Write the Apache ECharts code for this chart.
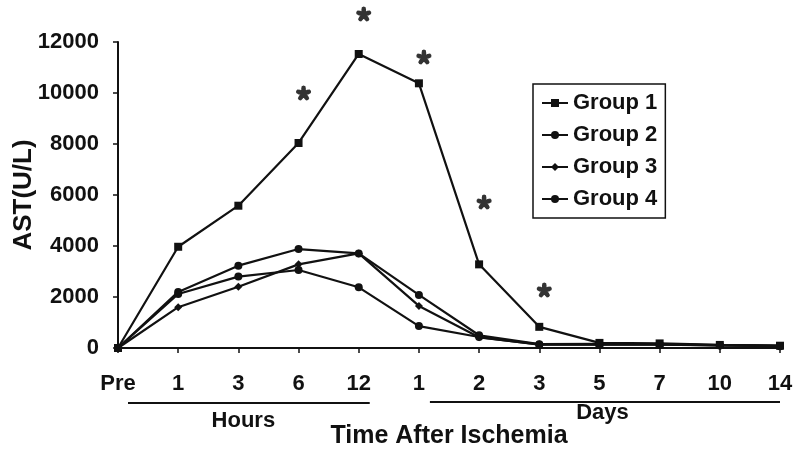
<!DOCTYPE html>
<html>
<head>
<meta charset="utf-8">
<script src="https://cdn.jsdelivr.net/npm/echarts@6/dist/echarts.min.js"></script>
<style>html,body{margin:0;padding:0;background:#fff}#c{width:800px;height:454px}</style>
</head>
<body>
<div id="c"></div>
<script>
// categories (unique keys) and the tick labels shown for them
var categories = ['Pre', '1 h', '3 h', '6 h', '12 h', '1 d', '2 d', '3 d', '5 d', '7 d', '10 d', '14 d'];
var tickLabels = ['Pre', '1', '3', '6', '12', '1', '2', '3', '5', '7', '10', '14'];
var yTicks = [0, 2000, 4000, 6000, 8000, 10000, 12000];

var group1 = [0, 3970, 5580, 8040, 11530, 10380, 3280, 830, 200, 180, 120, 90];
var group2 = [0, 2200, 3230, 3880, 3710, 2080, 500, 150, 160, 150, 110, 80];
var group3 = [0, 1600, 2400, 3280, 3710, 1650, 420, 140, 150, 140, 100, 80];
var group4 = [0, 2120, 2800, 3060, 2380, 860, 430, 130, 140, 130, 100, 70];
// significance asterisks (height at which each * is drawn)
var signif = [null, null, null, 10000, 13100, 11410, 5725, 2275, null, null, null, null];

var FONT = '"Liberation Sans", Arial, sans-serif';
var chart = echarts.init(document.getElementById('c'), null, {renderer: 'canvas'});

// five-armed bold asterisk glyph as a symbol path
function asteriskPath() {
  var d = '';
  var pts = [[0, -0.2], [0.55, -0.3], [0.9, -0.24], [1, 0], [0.9, 0.24], [0.55, 0.3], [0, 0.2]];
  for (var k = 0; k < 5; k++) {
    var a = -Math.PI / 2 + k * 2 * Math.PI / 5;
    var ux = Math.cos(a), uy = Math.sin(a), vx = -uy, vy = ux;
    pts.forEach(function (p, i) {
      var x = 10 + 10 * (ux * p[0] + vx * p[1]);
      var y = 10 + 10 * (uy * p[0] + vy * p[1]);
      d += (i === 0 ? 'M' : 'L') + x.toFixed(2) + ' ' + y.toFixed(2) + ' ';
    });
    d += 'Z ';
  }
  return 'path://' + d;
}

function lineSeries(name, data, symbol) {
  return {
    name: name, type: 'line', data: data, symbol: symbol, symbolSize: 8,
    lineStyle: {color: '#111', width: 2.2},
    itemStyle: {color: '#111'},
    animation: false
  };
}

var option = {
  backgroundColor: '#fff',
  animation: false,
  grid: {left: 118, right: 20, top: 42, bottom: 106, containLabel: false, outerBoundsMode: 'none'},
  legend: {
    data: ['Group 1', 'Group 2', 'Group 3', 'Group 4'],
    orient: 'vertical', left: 533, top: 84,
    borderColor: '#111', borderWidth: 1.5, padding: [8, 8, 8, 8],
    itemGap: 10, itemWidth: 26, itemHeight: 10,
    textStyle: {fontFamily: FONT, fontSize: 22, fontWeight: 'bold', color: '#111'}
  },
  xAxis: {
    type: 'category', data: categories, boundaryGap: false,
    name: 'Time After Ischemia', nameLocation: 'middle', nameGap: 76, nameMoveOverlap: false,
    nameTextStyle: {fontFamily: FONT, fontSize: 25, fontWeight: 'bold', color: '#111'},
    axisLine: {show: true, lineStyle: {color: '#111', width: 2}},
    axisTick: {show: true, alignWithLabel: true, length: 5, lineStyle: {color: '#111', width: 1.5}},
    axisLabel: {
      margin: 25, fontFamily: FONT, fontSize: 22, fontWeight: 'bold', color: '#111',
      formatter: function (v, i) { return tickLabels[i]; }
    },
    splitLine: {show: false}
  },
  yAxis: {
    type: 'value', min: yTicks[0], max: yTicks[yTicks.length - 1], interval: 2000,
    name: 'AST(U/L)', nameLocation: 'middle', nameGap: 81, nameMoveOverlap: false,
    nameTextStyle: {fontFamily: FONT, fontSize: 26, fontWeight: 'bold', color: '#111'},
    axisLine: {show: true, lineStyle: {color: '#111', width: 2}},
    axisTick: {show: true, length: 5, lineStyle: {color: '#111', width: 1.5}},
    axisLabel: {margin: 19, fontFamily: FONT, fontSize: 22, fontWeight: 'bold', color: '#111',
      formatter: function (v) { return String(v); }},
    splitLine: {show: false}
  },
  series: [
    lineSeries('Group 1', group1, 'rect'),
    lineSeries('Group 2', group2, 'circle'),
    lineSeries('Group 3', group3, 'diamond'),
    lineSeries('Group 4', group4, 'circle'),
    {
      name: 'sig', type: 'scatter', data: signif, clip: false,
      symbol: asteriskPath(), symbolSize: 15, symbolOffset: [5, 0],
      itemStyle: {color: '#000'},
      silent: true, z: 5
    }
  ]
};
chart.setOption(option);

// decorations: "Hours" / "Days" underlines and labels, placed from axis positions
function px(cat) { return chart.convertToPixel({xAxisIndex: 0}, cat); }
var axisY = chart.convertToPixel({yAxisIndex: 0}, 0);
var lineY = axisY + 55;
chart.setOption({
  graphic: [
    {type: 'line', shape: {x1: px('Pre') + 10, y1: lineY, x2: px('12 h') + 11, y2: lineY},
      style: {stroke: '#111', lineWidth: 2}},
    {type: 'line', shape: {x1: px('1 d') + 11, y1: lineY - 1, x2: px('14 d'), y2: lineY - 1},
      style: {stroke: '#111', lineWidth: 2}},
    {type: 'text', x: px('3 h') + 5, y: lineY + 18,
      style: {text: 'Hours', font: 'bold 22px ' + FONT, fill: '#111', textAlign: 'center', textVerticalAlign: 'middle'}},
    {type: 'text', x: px('5 d') + 3, y: lineY + 10,
      style: {text: 'Days', font: 'bold 22px ' + FONT, fill: '#111', textAlign: 'center', textVerticalAlign: 'middle'}}
  ]
});
</script>
</body>
</html>
